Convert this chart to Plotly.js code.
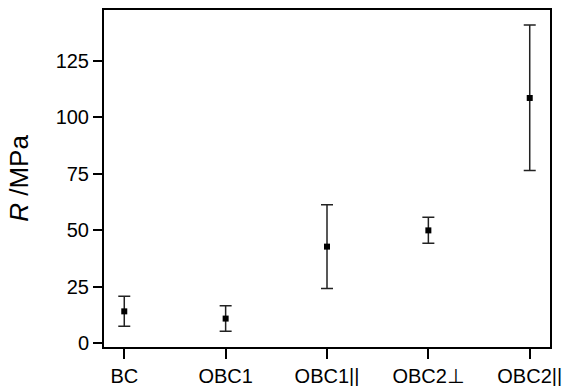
<!DOCTYPE html>
<html>
<head>
<meta charset="utf-8">
<script src="https://cdn.plot.ly/plotly-3.0.1.min.js"></script>
<style>html,body{margin:0;padding:0;background:#fff;}#chart{width:567px;height:386px;}</style>
</head>
<body>
<div id="chart"></div>
<script>
const categories = ["BC", "OBC1", "OBC1||", "OBC2\u22a5", "OBC2||"];
const tickLabels = ["BC", "OBC1", "OBC1||",
  "OBC2<span style=\"font-family:'DejaVu Sans'\">\u22a5</span>", "OBC2||"];
const values = [14.0, 10.8, 42.7, 49.9, 108.6];
const errPlus = [6.7, 5.7, 18.6, 5.8, 32.4];
const errMinus = [6.6, 5.6, 18.6, 5.7, 32.1];
const yTickVals = [0, 25, 50, 75, 100, 125];

const trace = {
  x: categories,
  y: values,
  type: 'scatter',
  mode: 'markers',
  marker: {symbol: 'square', size: 6, color: '#000'},
  error_y: {type: 'data', symmetric: false, array: errPlus, arrayminus: errMinus,
            color: '#222', thickness: 1.5, width: 6},
  showlegend: false
};

const layout = {
  width: 567, height: 386,
  margin: {l: 104, r: 17, t: 10, b: 39},
  paper_bgcolor: '#fff', plot_bgcolor: '#fff',
  font: {family: 'Liberation Sans, Arial, sans-serif', color: '#000', size: 20},
  xaxis: {
    type: 'category', range: [-0.2, 4.2],
    tickvals: categories, ticktext: tickLabels,
    showline: true, mirror: true, linecolor: '#000', linewidth: 2,
    ticks: 'outside', ticklen: 10, tickwidth: 2, tickcolor: '#000',
    showgrid: false, zeroline: false, fixedrange: true,
    tickfont: {size: 20}
  },
  yaxis: {
    range: [-1.8, 147.6],
    tickvals: yTickVals, ticktext: yTickVals.map(String),
    showline: true, mirror: true, linecolor: '#000', linewidth: 2,
    ticks: 'outside', ticklen: 9, tickwidth: 2, tickcolor: '#000',
    showgrid: false, zeroline: false, fixedrange: true,
    tickfont: {size: 20},
    title: {text: '<i>R</i> /MPa', font: {size: 26}, standoff: 20}
  }
};

Plotly.newPlot('chart', [trace], layout, {displayModeBar: false, staticPlot: true});
</script>
</body>
</html>
